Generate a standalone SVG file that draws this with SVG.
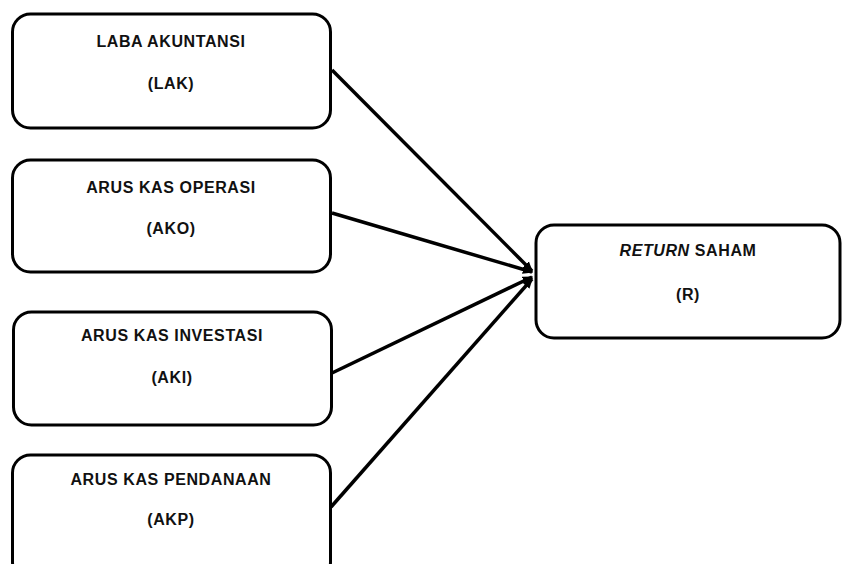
<svg xmlns="http://www.w3.org/2000/svg" width="842" height="564" viewBox="0 0 842 564">
<style>
.box{fill:#fff;stroke:#000;stroke-width:3}
.t{font-family:"Liberation Sans",Arial,sans-serif;font-weight:bold;font-size:16px;text-anchor:middle;fill:#111;letter-spacing:0.6px}
.c{stroke:#000;stroke-width:3.5;fill:none;marker-end:url(#ah)}
</style>
<defs>
<marker id="ah" markerWidth="3" markerHeight="3" refX="2.6" refY="1.5" orient="auto" markerUnits="strokeWidth">
<path d="M0,0.2 L3,1.5 L0,2.8 Z" fill="#000"/>
</marker>
</defs>
<rect width="842" height="564" fill="#fff"/>
<g id="connectors">
<line class="c" x1="332" y1="70" x2="532" y2="271"/>
<line class="c" x1="332" y1="213" x2="532" y2="272"/>
<line class="c" x1="332" y1="373" x2="532" y2="277"/>
<line class="c" x1="331" y1="507" x2="532" y2="279"/>
</g>
<g id="lak">
<rect class="box" x="12.5" y="14" width="318" height="114" rx="18"/>
<text class="t" x="171" y="47">LABA AKUNTANSI</text>
<text class="t" x="171" y="89">(LAK)</text>
</g>
<g id="ako">
<rect class="box" x="12.5" y="160" width="318" height="112" rx="18"/>
<text class="t" x="171" y="193">ARUS KAS OPERASI</text>
<text class="t" x="171" y="234">(AKO)</text>
</g>
<g id="aki">
<rect class="box" x="13.5" y="312" width="318" height="113" rx="18"/>
<text class="t" x="172" y="341">ARUS KAS INVESTASI</text>
<text class="t" x="172" y="383">(AKI)</text>
</g>
<g id="akp">
<rect class="box" x="12.5" y="455" width="318" height="125" rx="18"/>
<text class="t" x="171" y="485">ARUS KAS PENDANAAN</text>
<text class="t" x="171" y="525">(AKP)</text>
</g>
<g id="r">
<rect class="box" x="536" y="225" width="304" height="113" rx="18"/>
<text class="t" x="688" y="256"><tspan font-style="italic">RETURN</tspan> SAHAM</text>
<text class="t" x="688" y="300">(R)</text>
</g>
</svg>
